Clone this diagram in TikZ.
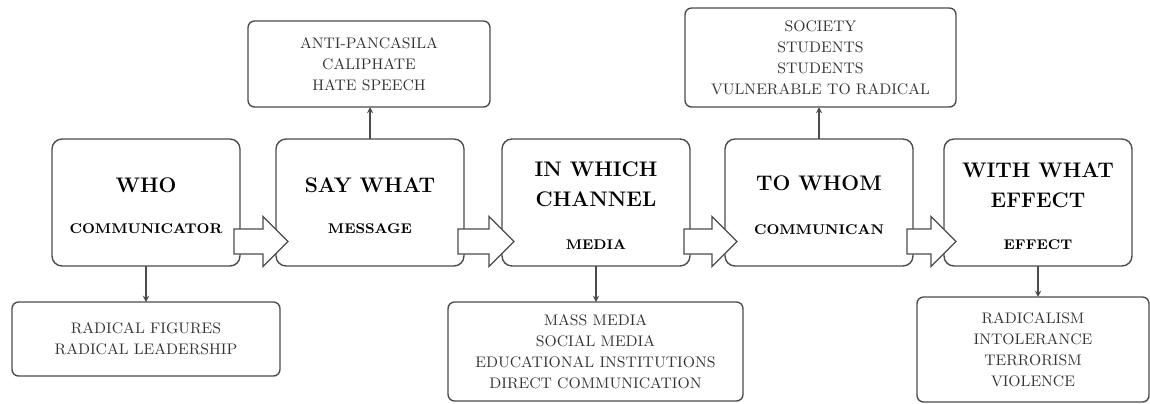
\documentclass[tikz,border=0pt]{standalone}
\usetikzlibrary{positioning,calc}
\newcommand{\FatArr}[2]{%
  \draw[fat] ($(#1.east)+(-6,26.5)$) -- ($(#2.west)+(-13,26.5)$) -- ($(#2.west)+(-13,14)$)
    -- ($(#2.west)+(12,39)$) -- ($(#2.west)+(-13,64)$) -- ($(#2.west)+(-13,51.5)$)
    -- ($(#1.east)+(-6,51.5)$) -- cycle;}

\begin{document}
\begin{tikzpicture}[x=0.02cm,y=-0.02cm,
  stage/.style={draw=black!70,line width=0.8pt,rounded corners=0.2cm,inner sep=0pt,outer sep=0pt,
    minimum width=3.76cm,minimum height=2.54cm},
  detail/.style={draw=black!70,line width=0.8pt,rounded corners=0.13cm,inner sep=0pt,outer sep=0pt,
    align=center,text=black!80,font=\fontsize{8.7}{12}\selectfont},
  title/.style={align=center,font=\fontsize{12}{17}\selectfont\bfseries},
  sub/.style={font=\fontsize{8}{10}\selectfont\bfseries},
  fat/.style={draw=black!70,line width=0.7pt,fill=white},
  link/.style={draw=black!70,line width=0.6pt,-stealth}]
\useasboundingbox (0,0) rectangle (1150,403);

% the five stages
\node[stage] (who)  at (146,202.5) {};
\node[stage] (say)  at (370,202.5) {};
\node[stage] (chan) at (596,202.5) {};
\node[stage] (whom) at (819,202.5) {};
\node[stage] (eff)  at (1038,202.5) {};

\FatArr{who}{say}
\FatArr{say}{chan}
\FatArr{chan}{whom}
\FatArr{whom}{eff}

\node[title] (who-t)  at (146,185) {WHO};
\node[sub]   (who-s)  at (146,229) {COMMUNICATOR};
\node[title] (say-t)  at (370,185) {SAY WHAT};
\node[sub]   (say-s)  at (370,229) {MESSAGE};
\node[title] (chan-t) at (596,184.5) {IN WHICH\\CHANNEL};
\node[sub]   (chan-s) at (596,245) {MEDIA};
\node[title] (whom-t) at (819,183) {TO WHOM};
\node[sub]   (whom-s) at (819,230) {COMMUNICAN};
\node[title] (eff-t)  at (1038,185) {WITH WHAT\\EFFECT};
\node[sub]   (eff-s)  at (1038,245) {EFFECT};

% details
\node[detail,minimum width=4.84cm,minimum height=1.72cm] (content) at (369,64)
  {ANTI-PANCASILA\\CALIPHATE\\HATE SPEECH};
\node[detail,minimum width=5.42cm,minimum height=1.98cm] (target) at (820.5,57.5)
  {SOCIETY\\STUDENTS\\STUDENTS\\VULNERABLE TO RADICAL};
\node[detail,minimum width=5.36cm,minimum height=1.48cm] (figures) at (146,339)
  {RADICAL FIGURES\\RADICAL LEADERSHIP};
\node[detail,minimum width=5.9cm,minimum height=1.98cm] (media) at (595.5,351.5)
  {MASS MEDIA\\SOCIAL MEDIA\\EDUCATIONAL INSTITUTIONS\\DIRECT COMMUNICATION};
\node[detail,minimum width=4.64cm,minimum height=2.1cm] (impact) at (1033,349.5)
  {RADICALISM\\INTOLERANCE\\TERRORISM\\VIOLENCE};

\draw[link] (say.north) -- (say.north |- content.south);
\draw[link] (whom.north) -- (whom.north |- target.south);
\draw[link] (who.south) -- (who.south |- figures.north);
\draw[link] (chan.south) -- (chan.south |- media.north);
\draw[link] (eff.south) -- (eff.south |- impact.north);
\end{tikzpicture}
\end{document}
